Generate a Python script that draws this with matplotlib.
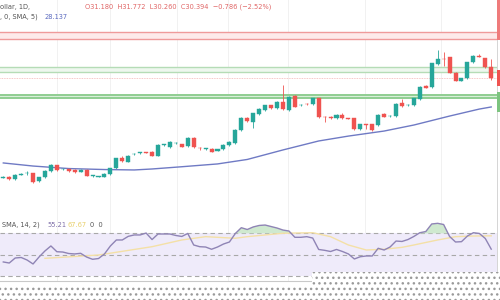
import matplotlib
matplotlib.use("Agg")
import matplotlib.pyplot as plt
import numpy as np
from matplotlib.patches import Polygon, Rectangle

# daily candles (open, close, high, low)
opens = [23.31, 23.35, 23.20, 23.52, 23.60, 23.61, 23.08, 23.33, 23.78, 24.20,
         23.90, 23.92, 23.85, 23.73, 23.85, 23.42, 23.37, 23.37, 23.56, 23.97,
         24.68, 24.44, 24.97, 25.06, 25.09, 25.15, 24.87, 25.63, 25.47, 25.75,
         25.70, 25.56, 26.15, 25.41, 25.36, 25.37, 25.23, 25.33, 25.63, 25.75,
         26.70, 27.58, 27.30, 27.85, 28.13, 28.47, 28.25, 28.73, 28.13, 29.13,
         28.47, 28.58, 28.56, 28.97, 27.63, 27.65, 27.54, 27.78, 27.54, 27.54,
         26.75, 27.08, 27.11, 27.06, 27.85, 27.70, 27.70, 28.61, 28.47, 28.49,
         28.90, 29.85, 29.75, 31.42, 31.80, 31.90, 30.80, 30.23, 30.40, 31.54,
         31.97, 31.83, 31.18]
closes = [23.35, 23.20, 23.49, 23.55, 23.64, 23.01, 23.33, 23.78, 24.20, 23.85,
          23.93, 23.78, 23.70, 23.85, 23.44, 23.44, 23.39, 23.56, 23.97, 24.68,
          24.49, 24.87, 25.01, 25.09, 25.07, 24.87, 25.63, 25.65, 25.83, 25.77,
          25.51, 26.15, 25.47, 25.39, 25.38, 25.15, 25.33, 25.63, 25.87, 26.70,
          27.58, 27.35, 27.90, 28.20, 28.47, 28.25, 28.73, 28.18, 29.08, 28.37,
          28.51, 28.55, 28.97, 27.61, 27.60, 27.54, 27.78, 27.54, 27.52, 26.75,
          27.11, 27.06, 26.70, 27.78, 27.65, 27.72, 28.56, 28.42, 28.49, 28.97,
          29.80, 29.73, 31.47, 31.78, 31.77, 30.80, 30.23, 30.40, 31.54, 31.99,
          31.94, 31.18, 30.394]
highs = [23.40, 23.40, 23.54, 23.60, 23.75, 23.66, 23.38, 23.82, 24.25, 24.24,
         23.98, 23.96, 23.90, 23.90, 23.89, 23.48, 23.43, 23.60, 24.01, 24.72,
         24.85, 24.92, 25.08, 25.13, 25.13, 25.20, 25.67, 25.70, 25.90, 25.82,
         25.74, 26.20, 26.19, 25.47, 25.44, 25.41, 25.38, 25.67, 25.92, 26.75,
         27.62, 27.62, 27.94, 28.25, 28.52, 28.52, 28.78, 29.92, 29.13, 29.17,
         28.56, 28.62, 29.02, 29.01, 27.67, 27.69, 27.82, 27.92, 27.58, 27.58,
         27.15, 27.12, 27.15, 27.82, 27.89, 27.76, 28.60, 28.92, 28.54, 29.02,
         29.84, 29.89, 31.52, 32.40, 32.30, 31.95, 30.84, 30.44, 31.58, 32.03,
         32.10, 31.87, 31.772]
lows = [23.27, 23.16, 23.16, 23.48, 23.50, 22.95, 23.02, 23.28, 23.74, 23.80,
        23.86, 23.74, 23.66, 23.68, 23.40, 23.38, 23.33, 23.33, 23.52, 23.93,
        24.45, 24.40, 24.93, 25.02, 25.03, 24.83, 24.83, 25.58, 25.43, 25.71,
        25.47, 25.52, 25.43, 25.30, 25.30, 25.11, 25.19, 25.29, 25.59, 25.71,
        26.66, 27.31, 26.85, 27.81, 28.09, 28.21, 28.21, 28.14, 28.09, 28.33,
        28.43, 28.50, 28.52, 27.57, 27.30, 27.50, 27.50, 27.50, 27.48, 26.71,
        26.71, 26.80, 26.66, 27.02, 27.61, 27.66, 27.66, 28.38, 28.43, 28.45,
        28.86, 29.69, 29.71, 31.38, 31.25, 30.76, 30.19, 30.19, 30.36, 31.50,
        31.90, 31.14, 30.26]

# SMA 5 on price (read at a few candles)
sma_idx = [0, 5, 11, 17, 22, 25, 30, 36, 41, 47, 53, 58, 64, 69, 75, 80, 82]
sma_val = [24.35, 24.13, 23.95, 23.88, 23.85, 23.92, 24.08, 24.28, 24.60,
           25.28, 25.92, 26.27, 26.63, 27.06, 27.70, 28.20, 28.35]

# RSI 14 and its SMA
rsi = [43.2, 42.2, 46.9, 47.4, 45.0, 41.3, 47.8, 53.5, 58.2, 52.8,
       52.5, 51.1, 50.7, 51.3, 47.8, 45.7, 46.4, 50.7, 58.2, 63.8,
       63.8, 67.2, 68.5, 68.5, 70.3, 64.2, 69.4, 69.4, 69.4, 68.0,
       67.1, 69.9, 59.1, 57.5, 57.2, 55.1, 57.2, 60.0, 61.9, 69.9,
       75.3, 73.6, 76.0, 77.4, 77.8, 76.4, 75.0, 73.1, 72.2, 66.3,
       66.3, 66.9, 65.6, 54.9, 54.1, 53.0, 54.9, 53.0, 50.7, 46.0,
       48.1, 48.8, 48.8, 56.0, 54.4, 57.2, 62.8, 62.4, 64.2, 67.1,
       70.6, 71.7, 78.8, 79.4, 78.3, 67.1, 61.9, 62.2, 67.5, 70.6,
       69.9, 65.2, 55.2]
rsi_ma_idx = [7, 16, 25, 30, 34, 39, 41, 47, 52, 55, 58, 61, 64, 67, 69, 73, 76, 79, 82]
rsi_ma = [46.6, 49.7, 57.5, 63.8, 66.9, 65.4, 66.9, 70.1, 70.6, 66.9,
          59.1, 54.4, 55.1, 56.9, 59.1, 63.8, 66.9, 67.5, 67.7]

# horizontal zones drawn on the chart
red_zone = (33.20, 33.67)
green_zone1 = (30.87, 31.20)
green_zone2 = (28.97, 29.20)
last_close = 30.394

UP = "#26a69a"
DOWN = "#ef5350"

W, H = 500, 300
fig = plt.figure(figsize=(5, 3), dpi=100)
fig.patch.set_facecolor("white")


def box(x0, y0, x1, y1):
    # pixel box -> figure fraction
    return [x0 / W, 1 - y1 / H, (x1 - x0) / W, (y1 - y0) / H]


ax = fig.add_axes(box(0, 0, 497, 219))
ax_rsi = fig.add_axes(box(0, 219, 497, 281))

o = np.array(opens)
c = np.array(closes)
x = np.arange(len(o))
cols = np.where(c >= o, UP, DOWN)

# faint vertical grid
for a in (ax, ax_rsi):
    for g in [9.0, 17.9, 29.2, 37.8, 47.8, 60.8, 73.5]:
        a.axvline(g, color="#f1f1f1", lw=0.7, zorder=0)

# zones
ax.axhspan(red_zone[0], red_zone[1], color="#fdeaea", lw=0, zorder=1)
for v in red_zone:
    ax.axhline(v, color="#ef9a9a", lw=1.0, zorder=2)
ax.axhspan(green_zone1[0], green_zone1[1], color="#eef7ee", lw=0, zorder=1)
for v in green_zone1:
    ax.axhline(v, color="#b5dcb6", lw=1.0, zorder=2)
ax.axhspan(green_zone2[0], green_zone2[1], color="#d9efd9", lw=0, zorder=1)
for v in green_zone2:
    ax.axhline(v, color="#8fce92", lw=1.4, zorder=2)
ax.axhline(last_close, color="#f4b4b4", lw=0.6, ls=(0, (1, 1)), zorder=2)

# candles
ax.vlines(x, lows, highs, color=cols, lw=0.6, zorder=3)
body_h = np.maximum(np.abs(c - o), 0.04)
ax.bar(x, body_h, 0.68, bottom=np.minimum(o, c), color=cols, edgecolor=cols,
       lw=0.3, zorder=4)

# SMA line
ax.plot(sma_idx, sma_val, color="#6f7ac4", lw=1.0, zorder=3)

ax.set_xlim(-0.555, 82.97)
ax.set_ylim(35.99 - 219 / 14, 35.99)

# RSI pane
ax_rsi.axhspan(30, 70, color="#efebfa", lw=0, zorder=0)
for v in (70, 50, 30):
    ax_rsi.axhline(v, color="#a8a8a8", lw=0.8, ls=(0, (4, 3)), zorder=1)
r = np.array(rsi)
ax_rsi.fill_between(x, 70, r, where=r > 70, interpolate=True,
                    color="#cfe9cf", lw=0, zorder=1)
ax_rsi.plot(rsi_ma_idx, rsi_ma, color="#f4e0a6", lw=1.0, zorder=2)
ax_rsi.plot(x, r, color="#8f84b5", lw=1.0, zorder=3)
ax_rsi.set_xlim(-0.555, 82.97)
ax_rsi.set_ylim(50 - (281 - 254.7) * 0.937, 50 - (219 - 254.7) * 0.937)

for a in (ax, ax_rsi):
    a.set_xticks([])
    a.set_yticks([])
    for s in a.spines.values():
        s.set_visible(False)
    a.set_facecolor("none")
ax_rsi.spines["bottom"].set_visible(True)
ax_rsi.spines["bottom"].set_color("#c9c9c9")

# price scale edge with coloured labels
fig.add_artist(Rectangle((497 / W, 1 - 272 / H), 1.2 / W, 272 / H,
                         transform=fig.transFigure, color="#d6d6d6", lw=0))
for y0, y1, col in [(0, 40, "#ef7b7b"), (70, 86, DOWN), (92, 112, "#7cc47f")]:
    fig.add_artist(Rectangle((497 / W, 1 - y1 / H), 3 / W, (y1 - y0) / H,
                             transform=fig.transFigure, color=col, lw=0))

# legend texts
fs = 4.8
fig.text(0, 1 - 7 / H, "ollar, 1D,", fontsize=fs, color="#555555", va="center")
fig.text(85 / W, 1 - 7 / H, "O31.180  H31.772  L30.260  C30.394  \u22120.786 (\u22122.52%)",
         fontsize=fs, color="#e06666", va="center")
fig.text(0, 1 - 17 / H, ", 0, SMA, 5)", fontsize=fs, color="#555555", va="center")
fig.text(45 / W, 1 - 17 / H, "28.137", fontsize=fs, color="#5c6bc0", va="center")
fig.text(2 / W, 1 - 225 / H, "SMA, 14, 2)", fontsize=fs, color="#555555", va="center")
fig.text(47 / W, 1 - 225 / H, "55.21", fontsize=fs, color="#7e6fa8", va="center")
fig.text(67 / W, 1 - 225 / H, "67.67", fontsize=fs, color="#e8cf6a", va="center")
fig.text(90 / W, 1 - 225 / H, "0  0", fontsize=fs, color="#555555", va="center")

# dotted overlay at the bottom (time axis area)
pts = [(0, 286.5), (312, 286.5), (312, 272), (500, 272), (500, 300), (0, 300)]
poly = Polygon([(px / W, 1 - py / H) for px, py in pts], closed=True,
               transform=fig.transFigure, facecolor="white",
               edgecolor="#9a9a9a", hatch="...", lw=0)
fig.add_artist(poly)

fig.savefig("out.png", dpi=100)
